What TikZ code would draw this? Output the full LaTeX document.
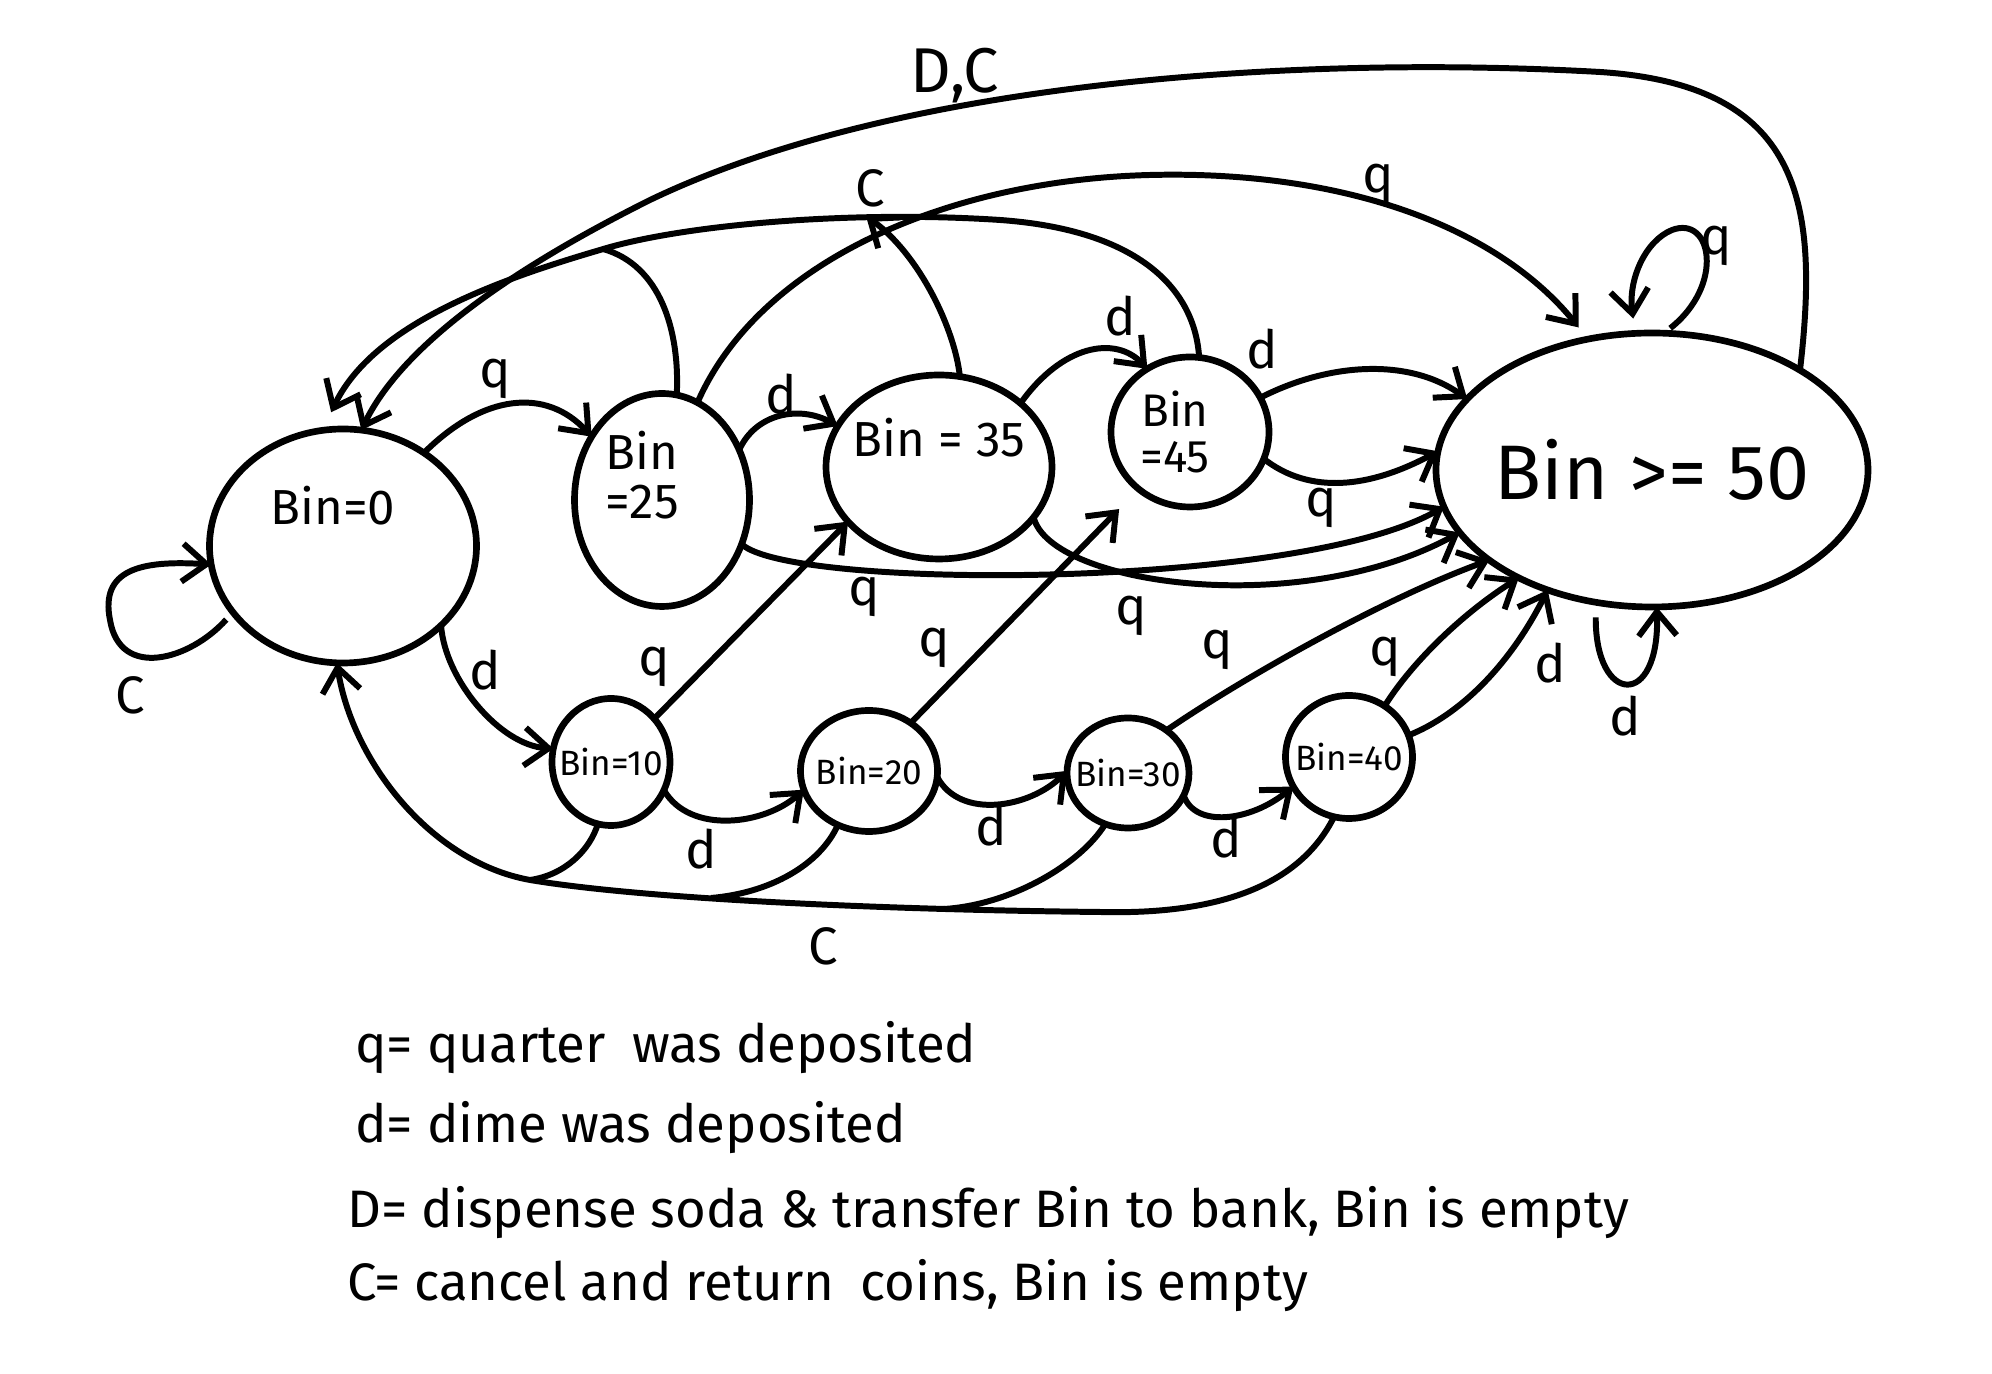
\documentclass[tikz,border=0pt]{standalone}
\usepackage{fontspec}
\setmainfont{Fira Sans}
\usetikzlibrary{arrows.meta,shapes.geometric}
\newcommand\myfs[1]{\fontsize{#1}{#1}\selectfont}
\begin{document}
\begin{tikzpicture}[x=0.1mm,y=-0.1mm,
  st/.style={draw,ellipse,line width=1.9pt,inner sep=0pt,outer sep=0pt},
  tr/.style={line width=1.7pt,-{Straight Barb[length=2.4mm,width=3.8mm,line width=1.7pt]}},
  ln/.style={line width=1.7pt},
  lab/.style={font=\myfs{15}},
  legend/.style={font=\myfs{15},anchor=west}]
\useasboundingbox (0,0) rectangle (1992,1374);

% states
\node[st,minimum width=26.7mm,minimum height=23.4mm,
  label={[font=\myfs{14},xshift=-1mm,yshift=4mm]center:Bin=0}] (b0) at (343,546) {};
\node[st,minimum width=17.5mm,minimum height=21.3mm,
  label={[font=\myfs{14},align=center,xshift=-2mm,yshift=2.5mm]center:{Bin\\=25}}] (b25) at (662,500) {};
\node[st,minimum width=22.6mm,minimum height=18.4mm,
  label={[font=\myfs{14},yshift=2.9mm]center:Bin = 35}] (b35) at (939,467) {};
\node[st,minimum width=15.8mm,minimum height=15mm,
  label={[font=\myfs{13},align=center,xshift=-1.5mm]center:{Bin\\=45}}] (b45) at (1190,432) {};
\node[st,minimum width=43.2mm,minimum height=27.4mm,
  label={[font=\myfs{22}]center:Bin >= 50}] (b50) at (1652,470) {};
\node[st,minimum width=11.8mm,minimum height=12.7mm,
  label={[font=\myfs{10}]center:Bin=10}] (b10) at (611,762) {};
\node[st,minimum width=13.7mm,minimum height=12.1mm,
  label={[font=\myfs{10}]center:Bin=20}] (b20) at (869,771) {};
\node[st,minimum width=12.2mm,minimum height=11mm,
  label={[font=\myfs{10}]center:Bin=30}] (b30) at (1128,773) {};
\node[st,minimum width=12.7mm,minimum height=12.3mm,
  label={[font=\myfs{10}]center:Bin=40}] (b40) at (1349,757) {};

% upper row transitions
\draw[tr] (b0.49) .. controls (483,394) and (546,387) .. (b25.138);
\draw[tr] (b25.33) .. controls (756,413) and (800,405) .. (b35.158);
\draw[tr] (b35.38) .. controls (1062,345) and (1115,335) .. (b45.124);
\draw[tr] (b45.26) .. controls (1330,362) and (1410,358) .. (b50.159);
\draw[tr] (b45.-20) .. controls (1310,495) and (1370,488) .. (b50.175);
\draw[tr] (b25.-29) .. controls (790,590) and (1300,590) .. (b50.190);
\draw[tr] (b35.-28) .. controls (1050,585) and (1300,620) .. (b50.198);
\draw[tr,shorten >=1.5mm] (b25.70) .. controls (760,260) and (950,180) .. (1150,175)
  .. controls (1350,170) and (1500,230) .. (b50.116);

% self loops
\draw[tr,shorten <=0.8mm,shorten >=1.5mm] (b50.85) .. controls (1725,285) and (1712,215) .. (1672,230)
  .. controls (1645,241) and (1628,280) .. (b50.97);
\draw[tr,shorten <=1.5mm] (b50.247) .. controls (1595,705) and (1660,710) .. (b50.272);
\draw[tr,shorten <=1mm] (b0.211) .. controls (190,660) and (120,680) .. (110,620)
  .. controls (100,570) and (140,560) .. (b0.188);

% lower row transitions
\draw[tr] (b0.-39) .. controls (445,680) and (500,745) .. (b10.167);
\draw[tr] (b10.-28) .. controls (690,835) and (765,825) .. (b20.196);
\draw[tr] (b20.-5) .. controls (960,820) and (1030,808) .. (b30.178);
\draw[tr] (b30.-22) .. controls (1195,828) and (1250,822) .. (b40.208);
\draw[tr] (b10.45) -- (b35.211);
\draw[tr,shorten >=2.8mm] (b20.49) -- (b45.228);
\draw[tr] (b30.48) .. controls (1240,680) and (1380,600) .. (b50.209);
\draw[tr] (b40.55) .. controls (1410,665) and (1460,615) .. (b50.219);
\draw[tr] (b40.20) .. controls (1460,715) and (1510,665) .. (b50.229);

% cancel / dispense returns
\coordinate (j25) at (603,249);
\coordinate (j35) at (866,216);
\draw[tr,shorten >=2mm] (b45.83) .. controls (1195,290) and (1140,230) .. (1000,220)
  .. controls (850,210) and (680,225) .. (600,250)
  .. controls (480,285) and (370,330) .. (b0.100);
\draw[ln] (b25.82) .. controls (680,330) and (660,265) .. (j25);
\draw[tr] (b35.77) .. controls (955,330) and (920,255) .. (j35);
\draw[tr] (b50.34) .. controls (1820,200) and (1800,85) .. (1600,72)
  .. controls (1300,55) and (900,80) .. (650,200)
  .. controls (500,275) and (400,350) .. (b0.81);

\coordinate (j10) at (530,880);
\coordinate (j20) at (711,898);
\coordinate (j30) at (944,909);
\draw[tr] (b40.256) .. controls (1300,885) and (1220,915) .. (1100,912)
  .. controls (900,910) and (650,900) .. (530,880)
  .. controls (430,862) and (352,760) .. (b0.267);
\draw[ln] (b10.258) .. controls (590,850) and (565,875) .. (j10);
\draw[ln] (b20.240) .. controls (820,865) and (770,893) .. (j20);
\draw[ln] (b30.246) .. controls (1080,865) and (1010,905) .. (j30);

% transition labels
\node[lab] (t1) at (495,379) {q};
\node[lab] (t2) at (781,394) {d};
\node[lab] (t3) at (1120,316) {d};
\node[lab] (t4) at (1262,349) {d};
\node[lab] (t5) at (1321,508) {q};
\node[lab] (t6) at (864,597) {q};
\node[lab] (t7) at (1131,616) {q};
\node[lab] (t8) at (1378,184) {q};
\node[lab] (t9) at (1716,246) {q};
\node[lab] (t10) at (1625,716) {d};
\node[lab] (t11) at (130,695) {C};
\node[lab] (t12) at (485,670) {d};
\node[lab] (t13) at (701,849) {d};
\node[lab] (t14) at (991,826) {d};
\node[lab] (t15) at (1226,838) {d};
\node[lab] (t16) at (654,667) {q};
\node[lab] (t17) at (934,648) {q};
\node[lab] (t18) at (1217,650) {q};
\node[lab] (t19) at (1385,657) {q};
\node[lab] (t20) at (1550,663) {d};
\node[lab] (t21) at (870,188) {C};
\node[lab,font=\myfs{18}] (t22) at (955,76) {D,C};
\node[lab] (t23) at (823,946) {C};

% legend
\node[legend] (l1) at (343,1048) {q= quarter\enspace was deposited};
\node[legend] (l2) at (343,1128) {d= dime was deposited};
\node[legend] (l3) at (335,1213) {D= dispense soda \& transfer Bin to bank, Bin is empty};
\node[legend] (l4) at (335,1286) {C= cancel and return\enspace coins, Bin is empty};
\end{tikzpicture}
\end{document}
